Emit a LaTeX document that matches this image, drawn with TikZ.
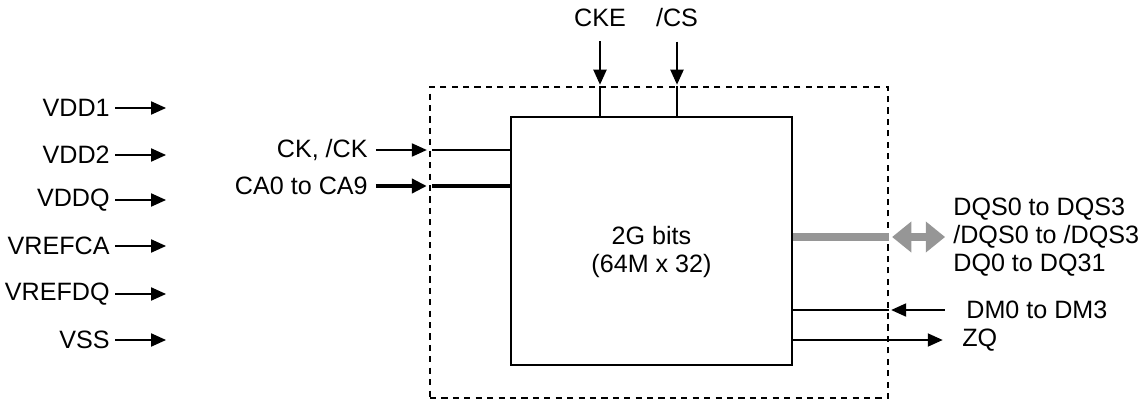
\documentclass[tikz,border=0pt]{standalone}
\usepackage{fontspec}
\setmainfont{Liberation Sans}
\usetikzlibrary{arrows.meta}
\definecolor{busgray}{RGB}{150, 150, 150}

\begin{document}
\begin{tikzpicture}[x=0.02cm, y=-0.02cm,
    lbl/.style={inner sep=0pt, font=\fontsize{14.3}{16}\selectfont},
    sig/.style={line width=0.8pt, -{Triangle[length=8.5pt, width=7.5pt]}},
    wire/.style={line width=0.8pt},
    bus/.style={line width=2.4pt, -{Triangle[length=8.5pt, width=8pt]}},
    thickwire/.style={line width=2.4pt}]
    \useasboundingbox (0,0) rectangle (1146,399);

    % package outline and die
    \node[draw, dashed, dash pattern=on 3.5pt off 3pt, line width=0.7pt, minimum width=9.16cm, minimum height=6.22cm, inner sep=0] (pkg) at (659,242.5) {};
    \node[draw, line width=0.9pt, minimum width=5.62cm, minimum height=4.96cm, inner sep=0] (chip) at (651.5,241) {};
    \node[lbl, align=center] (chiptxt) at (651.5,252) {2G bits\\(64M x 32)};

    % supplies
    \node[lbl, anchor=east] (vdd1) at (110,108) {VDD1};
    \node[lbl, anchor=east] (vdd2) at (110,155) {VDD2};
    \node[lbl, anchor=east] (vddq) at (110,200) {VDDQ};
    \node[lbl, anchor=east] (vrefca) at (110,246) {VREFCA};
    \node[lbl, anchor=east] (vrefdq) at (110,294) {VREFDQ};
    \node[lbl, anchor=east] (vss) at (110,340) {VSS};
    \coordinate (vdd1e) at (166,108);
    \coordinate (vdd2e) at (166,155);
    \coordinate (vddqe) at (166,200);
    \coordinate (vrefcae) at (166,246);
    \coordinate (vrefdqe) at (166,294);
    \coordinate (vsse) at (166,340);
    \draw[sig, shorten <=3pt] (vdd1.east) -- (vdd1e);
    \draw[sig, shorten <=3pt] (vdd2.east) -- (vdd2e);
    \draw[sig, shorten <=3pt] (vddq.east) -- (vddqe);
    \draw[sig, shorten <=3pt] (vrefca.east) -- (vrefcae);
    \draw[sig, shorten <=3pt] (vrefdq.east) -- (vrefdqe);
    \draw[sig, shorten <=3pt] (vss.east) -- (vsse);

    % top inputs
    \node[lbl] (cke) at (600,18) {CKE};
    \node[lbl] (cs) at (677,18) {/CS};
    \draw[sig, shorten <=8pt] (cke.south) -- ([yshift=1pt]cke.south |- pkg.north);
    \draw[sig, shorten <=8pt] (cs.south) -- ([yshift=1pt]cs.south |- pkg.north);
    \draw[wire] (cke.south |- pkg.north) -- (cke.south |- chip.north);
    \draw[wire] (cs.south |- pkg.north) -- (cs.south |- chip.north);

    % clock and command/address
    \node[lbl, anchor=east] (ck) at (368,150) {CK, /CK};
    \node[lbl, anchor=east] (ca) at (368,186) {CA0 to CA9};
    \draw[sig, shorten <=4.5pt] (ck.east) -- ([xshift=-1.5pt]ck -| pkg.west);
    \draw[bus, shorten <=4.5pt] (ca.east) -- ([xshift=-1.5pt]ca -| pkg.west);
    \draw[wire] ([xshift=1.5pt]ck -| pkg.west) -- (ck -| chip.west);
    \draw[thickwire] ([xshift=1.5pt]ca -| pkg.west) -- (ca -| chip.west);

    % data
    \node[lbl, anchor=west, align=left] (dq) at (953,237) {DQS0 to DQS3\\/DQS0 to /DQS3\\DQ0 to DQ31};
    \draw[busgray, line width=5pt] (chip.east |- dq.west) -- (pkg.east |- dq.west);
    \draw[busgray, line width=4pt, {Triangle[length=11pt, width=17pt]}-{Triangle[length=11pt, width=17pt]}] ([xshift=2pt]pkg.east |- dq.west) -- ([xshift=-4.5pt]dq.west);

    % mask and calibration
    \node[lbl, anchor=west] (dm) at (966,310) {DM0 to DM3};
    \node[lbl, anchor=west] (zq) at (962,340) {ZQ};
    \draw[sig, shorten <=12pt] (dm.west) -- ([xshift=1.5pt]pkg.east |- dm.west);
    \draw[wire] (pkg.east |- dm.west) -- (chip.east |- dm.west);
    \draw[sig, shorten >=11pt] (chip.east |- zq.west) -- (zq.west);
\end{tikzpicture}
\end{document}
